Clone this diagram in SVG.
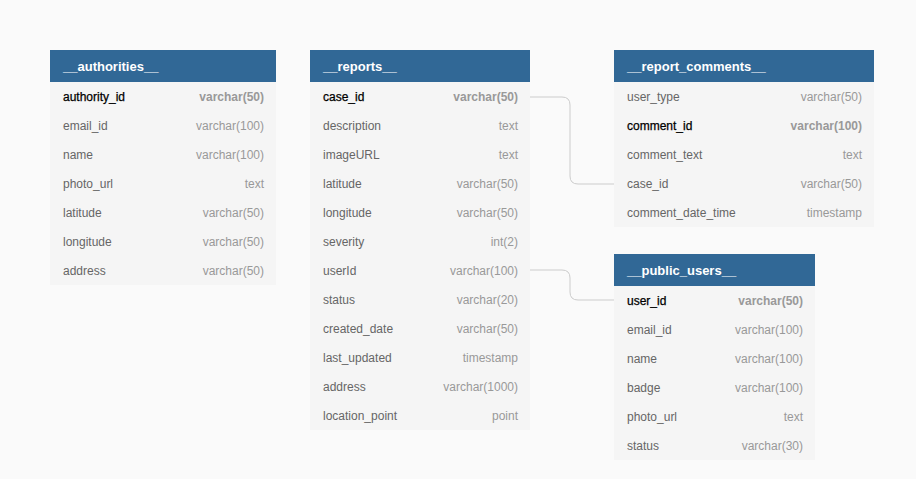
<svg xmlns="http://www.w3.org/2000/svg" width="916" height="479" viewBox="0 0 916 479">
<style>
.bg{fill:#fafafa}
.hd{fill:#316896}
.bd{fill:#f5f5f5}
.ht{font-family:"Liberation Sans",Arial,sans-serif;font-size:13px;font-weight:bold;fill:#fff}
.n{font-family:"Liberation Sans",Arial,sans-serif;font-size:12px;fill:#666}
.t{font-family:"Liberation Sans",Arial,sans-serif;font-size:12px;fill:#999;text-anchor:end}
.pk{fill:#000;stroke:#000;stroke-width:0.25}
.pt{font-weight:bold}
.c{fill:none;stroke:#cccccc;stroke-width:1}
</style>
<rect class="bg" x="0" y="0" width="916" height="479"/>
<g id="connectors">
<path class="c" d="M530,97 H562 Q570,97 570,105 V176 Q570,184 578,184 H614"/>
<path class="c" d="M530,270 H562 Q570,270 570,278 V292 Q570,300 578,300 H614"/>
</g>
<g id="authorities">
<rect class="bd" x="50" y="82" width="226" height="203"/>
<rect class="hd" x="50" y="50" width="226" height="32"/>
<text class="ht" x="63" y="71">__authorities__</text>
<text class="n pk" x="63" y="101">authority_id</text><text class="t pt" x="264" y="101">varchar(50)</text>
<text class="n" x="63" y="130">email_id</text><text class="t" x="264" y="130">varchar(100)</text>
<text class="n" x="63" y="159">name</text><text class="t" x="264" y="159">varchar(100)</text>
<text class="n" x="63" y="188">photo_url</text><text class="t" x="264" y="188">text</text>
<text class="n" x="63" y="217">latitude</text><text class="t" x="264" y="217">varchar(50)</text>
<text class="n" x="63" y="246">longitude</text><text class="t" x="264" y="246">varchar(50)</text>
<text class="n" x="63" y="275">address</text><text class="t" x="264" y="275">varchar(50)</text>
</g>
<g id="reports">
<rect class="bd" x="310" y="82" width="220" height="348"/>
<rect class="hd" x="310" y="50" width="220" height="32"/>
<text class="ht" x="323" y="71">__reports__</text>
<text class="n pk" x="323" y="101">case_id</text><text class="t pt" x="518" y="101">varchar(50)</text>
<text class="n" x="323" y="130">description</text><text class="t" x="518" y="130">text</text>
<text class="n" x="323" y="159">imageURL</text><text class="t" x="518" y="159">text</text>
<text class="n" x="323" y="188">latitude</text><text class="t" x="518" y="188">varchar(50)</text>
<text class="n" x="323" y="217">longitude</text><text class="t" x="518" y="217">varchar(50)</text>
<text class="n" x="323" y="246">severity</text><text class="t" x="518" y="246">int(2)</text>
<text class="n" x="323" y="275">userId</text><text class="t" x="518" y="275">varchar(100)</text>
<text class="n" x="323" y="304">status</text><text class="t" x="518" y="304">varchar(20)</text>
<text class="n" x="323" y="333">created_date</text><text class="t" x="518" y="333">varchar(50)</text>
<text class="n" x="323" y="362">last_updated</text><text class="t" x="518" y="362">timestamp</text>
<text class="n" x="323" y="391">address</text><text class="t" x="518" y="391">varchar(1000)</text>
<text class="n" x="323" y="420">location_point</text><text class="t" x="518" y="420">point</text>
</g>
<g id="report_comments">
<rect class="bd" x="614" y="82" width="260" height="145"/>
<rect class="hd" x="614" y="50" width="260" height="32"/>
<text class="ht" x="627" y="71">__report_comments__</text>
<text class="n" x="627" y="101">user_type</text><text class="t" x="862" y="101">varchar(50)</text>
<text class="n pk" x="627" y="130">comment_id</text><text class="t pt" x="862" y="130">varchar(100)</text>
<text class="n" x="627" y="159">comment_text</text><text class="t" x="862" y="159">text</text>
<text class="n" x="627" y="188">case_id</text><text class="t" x="862" y="188">varchar(50)</text>
<text class="n" x="627" y="217">comment_date_time</text><text class="t" x="862" y="217">timestamp</text>
</g>
<g id="public_users">
<rect class="bd" x="614" y="286" width="201" height="174"/>
<rect class="hd" x="614" y="254" width="201" height="32"/>
<text class="ht" x="627" y="275">__public_users__</text>
<text class="n pk" x="627" y="305">user_id</text><text class="t pt" x="803" y="305">varchar(50)</text>
<text class="n" x="627" y="334">email_id</text><text class="t" x="803" y="334">varchar(100)</text>
<text class="n" x="627" y="363">name</text><text class="t" x="803" y="363">varchar(100)</text>
<text class="n" x="627" y="392">badge</text><text class="t" x="803" y="392">varchar(100)</text>
<text class="n" x="627" y="421">photo_url</text><text class="t" x="803" y="421">text</text>
<text class="n" x="627" y="450">status</text><text class="t" x="803" y="450">varchar(30)</text>
</g>
</svg>
